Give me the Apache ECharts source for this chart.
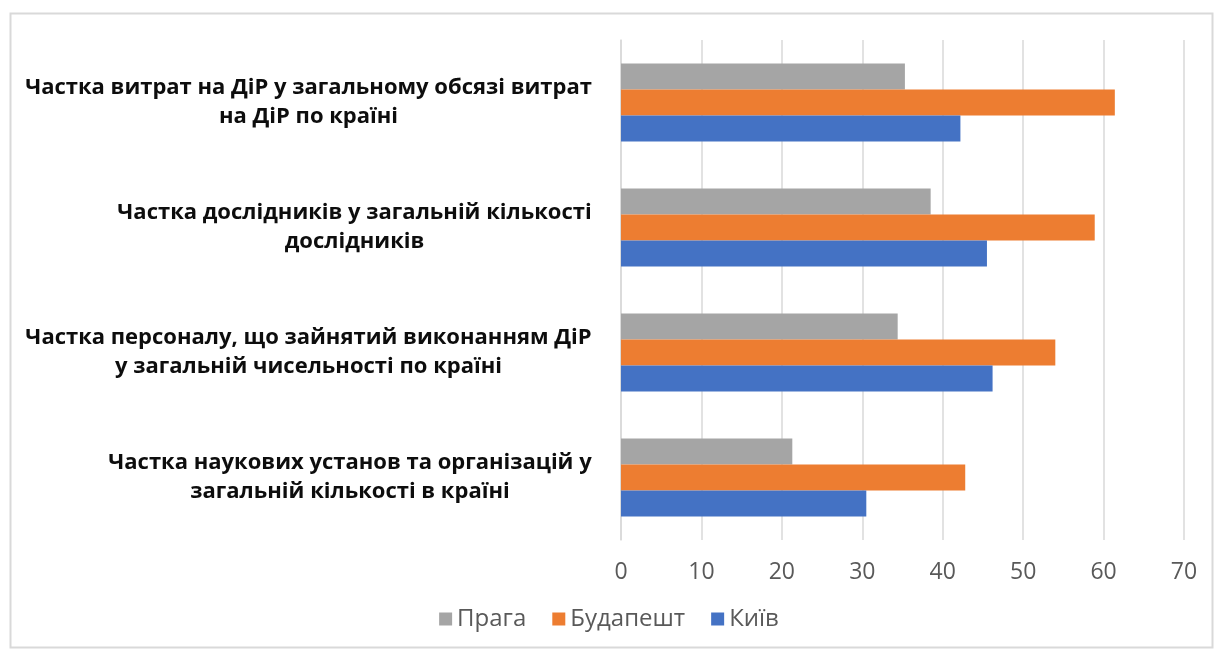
<!DOCTYPE html>
<html>
<head>
<meta charset="utf-8">
<script src="https://cdn.jsdelivr.net/npm/echarts@6/dist/echarts.min.js"></script>
<style>
html,body{margin:0;padding:0;background:#fff;}
#chart{width:1218px;height:650px;}
</style>
</head>
<body>
<div id="chart"></div>
<script>
// Categories listed bottom-to-top (ECharts category y-axis starts at the bottom)
const categories = [
  'Частка наукових установ та організацій у\nзагальній кількості в країні',
  'Частка персоналу, що зайнятий виконанням ДіР\nу загальній чисельності по країні',
  'Частка дослідників у загальній кількості\nдослідників',
  'Частка витрат на ДіР у загальному обсязі витрат\nна ДіР по країні'
];
const kyiv     = [30.5, 46.2, 45.5, 42.2];
const budapest = [42.8, 54.0, 58.9, 61.4];
const praha    = [21.3, 34.4, 38.5, 35.3];
const xTicks = [0, 10, 20, 30, 40, 50, 60, 70];

const labelSize = 22;
const ctx = document.createElement('canvas').getContext('2d');
ctx.font = 'bold ' + labelSize + 'px "Open Sans"';
const rich = {};
categories.forEach((c, i) => {
  const w = Math.max(...c.split('\n').map(l => ctx.measureText(l).width));
  rich['c' + i] = {
    width: Math.ceil(w) + 2, align: 'center', fontFamily: 'Open Sans',
    fontWeight: 'bold', fontSize: labelSize, color: '#0d0d0d', lineHeight: 29
  };
});

const chart = echarts.init(document.getElementById('chart'), null, {renderer: 'canvas'});
chart.setOption({
  animation: false,
  backgroundColor: '#ffffff',
  graphic: [{
    type: 'rect', left: 8, top: 11,
    shape: {width: 1202, height: 634},
    style: {fill: 'none', stroke: '#d9d9d9', lineWidth: 2}
  }],
  grid: {left: 621, right: 34, top: 40, bottom: 110, containLabel: false},
  legend: {
    bottom: 14, left: 'center',
    data: ['Прага', 'Будапешт', 'Київ'],
    icon: 'rect', itemWidth: 13, itemHeight: 13, itemGap: 26, itemTextGap: 7,
    textStyle: {fontFamily: 'Open Sans', fontSize: 24, color: '#595959'}
  },
  xAxis: {
    type: 'value', min: xTicks[0], max: xTicks[xTicks.length - 1], interval: 10,
    axisLine: {show: false}, axisTick: {show: false},
    splitLine: {show: true, lineStyle: {color: '#d9d9d9', width: 1.5}},
    axisLabel: {margin: 21, fontFamily: 'Open Sans', fontSize: 23, color: '#595959'}
  },
  yAxis: {
    type: 'category', data: categories,
    axisLine: {show: true, lineStyle: {color: '#d9d9d9', width: 1.5}},
    axisTick: {show: false},
    axisLabel: {
      margin: 28,
      formatter: (v, i) => v.split('\n').map(l => '{c' + i + '|' + l + '}').join('\n'),
      rich: rich
    }
  },
  series: [
    {name: 'Прага', type: 'bar', data: praha, barWidth: 26, barGap: '0%', itemStyle: {color: '#A5A5A5'}},
    {name: 'Будапешт', type: 'bar', data: budapest, barWidth: 26, barGap: '0%', itemStyle: {color: '#ED7D31'}},
    {name: 'Київ', type: 'bar', data: kyiv, barWidth: 26, barGap: '0%', itemStyle: {color: '#4472C4'}}
  ]
});
</script>
</body>
</html>
